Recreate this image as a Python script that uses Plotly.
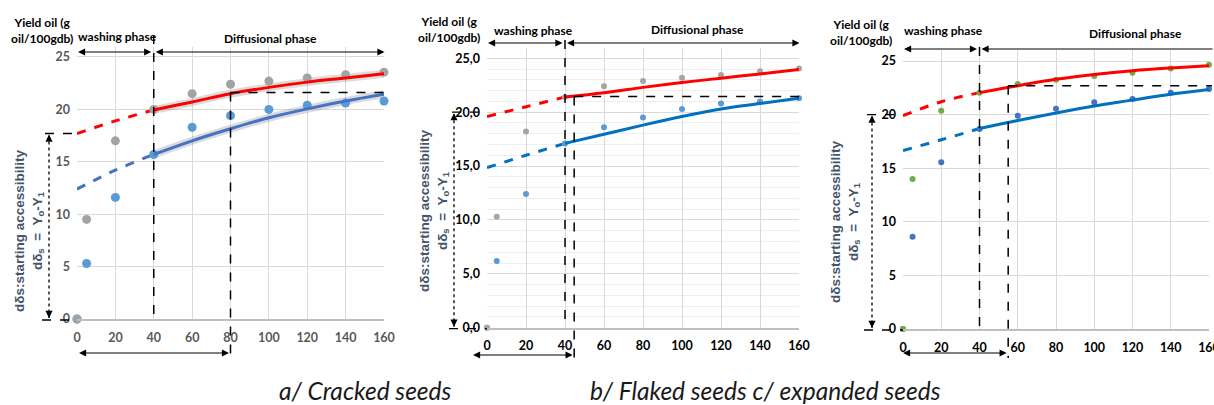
import plotly.graph_objects as go

W, H = 1214, 405

# ---------------- data ----------------
TIME = [0, 5, 20, 40, 60, 80, 100, 120, 140, 160]

A_TOP = [0, 9.5, 17.0, 20.0, 21.5, 22.4, 22.7, 23.0, 23.3, 23.55]
A_BOT = [0, 5.3, 11.6, 15.7, 18.3, 19.4, 20.0, 20.4, 20.6, 20.8]
B_TOP = [0, 10.3, 18.2, 21.4, 22.4, 22.9, 23.2, 23.45, 23.8, 24.05]
B_BOT = [0, 6.2, 12.4, 17.1, 18.6, 19.5, 20.3, 20.8, 21.0, 21.3]
C_TOP = [0, 14.0, 20.35, 22.05, 22.85, 23.25, 23.6, 23.9, 24.3, 24.65]
C_BOT = [0, 8.6, 15.55, 18.65, 19.9, 20.55, 21.15, 21.45, 22.05, 22.4]

FIT_X_DASH = [0, 20, 40]
FIT_X_SOLID = [40, 60, 80, 100, 120, 140, 160]

A_RED_DASH = [17.7, 18.9, 19.95]
A_RED_SOLID = [19.95, 20.7, 21.5, 22.1, 22.6, 23.0, 23.4]
A_BLUE_DASH = [12.4, 14.2, 15.7]
A_BLUE_SOLID = [15.7, 17.0, 18.15, 19.2, 20.05, 20.8, 21.45]

B_RED_DASH = [19.6, 20.5, 21.4]
B_RED_SOLID = [21.4, 21.8, 22.3, 22.75, 23.15, 23.55, 23.95]
B_BLUE_DASH = [14.85, 16.0, 17.1]
B_BLUE_SOLID = [17.1, 17.95, 18.8, 19.6, 20.3, 20.8, 21.3]

C_RED_DASH = [19.9, 21.2, 22.05]
C_RED_SOLID = [22.05, 22.7, 23.3, 23.75, 24.1, 24.35, 24.55]
C_BLUE_DASH = [16.65, 17.65, 18.7]
C_BLUE_SOLID = [18.7, 19.45, 20.15, 20.8, 21.35, 21.9, 22.35]

X_TICKS = [0, 20, 40, 60, 80, 100, 120, 140, 160]
Y_TICKS = [0, 5, 10, 15, 20, 25]
Y_TICKTEXT_B = ["0,0", "5,0", "10,0", "15,0", "20,0", "25,0"]

# guide values (phase boundary, equilibrium point, starting accessibility)
PHASE_END = {"a": 40, "b": 40, "c": 40}
EQ_X = {"a": 80, "b": 44.7, "c": 55}
EQ_Y = {"a": 21.6, "b": 21.45, "c": 22.7}
ACC_Y = {"a": 17.7, "b": 20.0, "c": 20.0}

CAPTION_A = "a/ Cracked seeds"
CAPTION_BC = "b/ Flaked seeds c/ expanded seeds"

# ---------------- geometry ----------------
XMAX, YMAX = 160, 26
GEOM = {
    "a": dict(x0=77, x1=384, y0=319, yt=46.5),
    "b": dict(x0=487, x1=799, y0=327.7, yt=47.5),
    "c": dict(x0=903, x1=1209, y0=329, yt=50.3),
}
AX = {"a": ("x", "y", "xaxis", "yaxis"), "b": ("x2", "y2", "xaxis2", "yaxis2"),
      "c": ("x3", "y3", "xaxis3", "yaxis3")}

LAB_FONT = "Lato, Open Sans, sans-serif"
ROT_FONT = "Liberation Sans, Arial, sans-serif"
LABEL_COL = "#44546a"


def dpx(g, v):
    G = GEOM[g]
    return G["x0"] + (G["x1"] - G["x0"]) * v / XMAX


def dpy(g, v):
    G = GEOM[g]
    return G["y0"] - (G["y0"] - G["yt"]) * v / YMAX


def line(x0, y0, x1, y1, dash="dash", width=1.5, color="black"):
    return dict(type="line", xref="paper", yref="paper",
                x0=x0 / W, y0=1 - y0 / H, x1=x1 / W, y1=1 - y1 / H,
                line=dict(color=color, width=width, dash=dash), layer="above")


def arrow(xh, yh, xt, yt, both=True):
    return dict(x=xh / W, y=1 - yh / H, xref="paper", yref="paper",
                ax=xt - xh, ay=yt - yh, axref="pixel", ayref="pixel",
                showarrow=True, text="", arrowhead=2, arrowsize=1.3,
                arrowwidth=1.1, arrowcolor="black",
                arrowside="end+start" if both else "end",
                standoff=0, startstandoff=0)


def text(x, y, t, size=12.5, color="black", bold=True, family=LAB_FONT,
         angle=0, italic=False):
    return dict(x=x / W, y=1 - y / H, xref="paper", yref="paper", text=t,
                showarrow=False, textangle=angle, xanchor="center",
                yanchor="middle",
                font=dict(size=size, color=color, family=family,
                          weight="bold" if bold else "normal",
                          style="italic" if italic else "normal"))


fig = go.Figure()

PANEL_DATA = {
    "a": dict(top=A_TOP, bot=A_BOT, rd=A_RED_DASH, rs=A_RED_SOLID,
              bd=A_BLUE_DASH, bs=A_BLUE_SOLID,
              top_col="#a3a3a3", bot_col="#5b9bd5", blue_line="#4472c4",
              msize=9, tickcol="#595959", shadow=True),
    "b": dict(top=B_TOP, bot=B_BOT, rd=B_RED_DASH, rs=B_RED_SOLID,
              bd=B_BLUE_DASH, bs=B_BLUE_SOLID,
              top_col="#a5a5a5", bot_col="#5b9bd5", blue_line="#0070c0",
              msize=6, tickcol="#000000", shadow=False),
    "c": dict(top=C_TOP, bot=C_BOT, rd=C_RED_DASH, rs=C_RED_SOLID,
              bd=C_BLUE_DASH, bs=C_BLUE_SOLID,
              top_col="#70ad47", bot_col="#4472c4", blue_line="#0070c0",
              msize=6, tickcol="#000000", shadow=False),
}

for g, P in PANEL_DATA.items():
    xa, ya, _, _ = AX[g]
    common = dict(xaxis=xa, yaxis=ya, showlegend=False, hoverinfo="skip")
    if P["shadow"]:
        for ys in (P["rs"], P["bs"]):
            fig.add_trace(go.Scatter(x=FIT_X_SOLID, y=ys, mode="lines",
                                     line=dict(color="rgba(90,90,90,0.22)",
                                               width=8, shape="spline"),
                                     **common))
    fig.add_trace(go.Scatter(x=FIT_X_DASH, y=P["rd"], mode="lines",
                             line=dict(color="#ff0000", width=3, dash="dash",
                                       shape="spline"), **common))
    fig.add_trace(go.Scatter(x=FIT_X_DASH, y=P["bd"], mode="lines",
                             line=dict(color=P["blue_line"], width=3,
                                       dash="dash", shape="spline"), **common))
    fig.add_trace(go.Scatter(x=TIME, y=P["bot"], mode="markers",
                             marker=dict(color=P["bot_col"], size=P["msize"]),
                             cliponaxis=False, **common))
    fig.add_trace(go.Scatter(x=TIME, y=P["top"], mode="markers",
                             marker=dict(color=P["top_col"], size=P["msize"]),
                             cliponaxis=False, **common))
    fig.add_trace(go.Scatter(x=FIT_X_SOLID, y=P["rs"], mode="lines",
                             line=dict(color="#ff0000", width=3,
                                       shape="spline"), **common))
    fig.add_trace(go.Scatter(x=FIT_X_SOLID, y=P["bs"], mode="lines",
                             line=dict(color=P["blue_line"], width=3,
                                       shape="spline"), **common))

layout_axes = {}
for g, P in PANEL_DATA.items():
    xa, ya, xkey, ykey = AX[g]
    G = GEOM[g]
    tf = dict(family=LAB_FONT, size=12.5, color=P["tickcol"], weight="bold")
    layout_axes[xkey] = dict(
        domain=[G["x0"] / W, G["x1"] / W], range=[0, XMAX], anchor=ya,
        tickvals=X_TICKS, showgrid=True, gridcolor="#d9d9d9", gridwidth=1,
        zeroline=False, showline=True, linecolor="#bfbfbf", linewidth=1.5,
        ticks="", tickfont=tf, ticklabelstandoff=6, fixedrange=True,
        automargin=False, ticklabeloverflow="allow")
    yk = dict(
        domain=[1 - G["y0"] / H, 1 - G["yt"] / H], range=[0, YMAX],
        anchor=xa, tickvals=Y_TICKS, showgrid=True, gridcolor="#d9d9d9",
        gridwidth=1, zeroline=False, showline=False, ticks="", tickfont=tf,
        ticklabelstandoff=6, fixedrange=True, automargin=False)
    if g == "b":
        yk["ticktext"] = Y_TICKTEXT_B
        yk["minor"] = dict(dtick=1, showgrid=True, gridcolor="#efefef",
                           gridwidth=1)
    layout_axes[ykey] = yk

shapes, anns = [], []

TOP_ARROW_Y = {"a": 52, "b": 43, "c": 49}
PHASE_TOP = {"a": 35, "b": 40, "c": 47}
BOTTOM_ARROW = {"a": (79, 353), "b": (473, 355), "c": (903, 353)}
BOTTOM_END = {"a": 355, "b": 358, "c": 358}
LEFT_GUIDE_X = {"a": (45, 42, 49), "b": (452, 449, 454), "c": (867, 864, 872)}
YIELD_POS = {"a": (42, 30), "b": (449, 29), "c": (861, 32)}
WASH_POS = {"a": (117, 37), "b": (533, 30), "c": (943, 31)}
DIFF_POS = {"a": (270, 38), "b": (697, 29), "c": (1135, 33)}
ROT_POS = {"a": (29, 231), "b": (434, 211), "c": (845, 222)}

for g in ("a", "b", "c"):
    x40 = dpx(g, PHASE_END[g])
    x0 = dpx(g, 0)
    x160 = dpx(g, XMAX)
    y0 = dpy(g, 0)
    shapes.append(line(x40, PHASE_TOP[g], x40, y0))
    ex, ey = dpx(g, EQ_X[g]), dpy(g, EQ_Y[g])
    shapes.append(line(ex, ey, ex, BOTTOM_END[g]))
    shapes.append(line(ex, ey, x160 + 3, ey))
    hx, hx0, vx = LEFT_GUIDE_X[g]
    ay_acc = dpy(g, ACC_Y[g])
    shapes.append(line(hx, ay_acc, x0, ay_acc, dash="dash", width=1.3))
    shapes.append(line(hx0, y0 + 1, x0, y0 + 1, dash="dash", width=1.3))
    shapes.append(line(vx, ay_acc + 2, vx, y0 - 1, dash="dot", width=1.3))
    anns.append(arrow(vx, ay_acc + 1, vx, ay_acc + 6, both=False))
    anns.append(arrow(vx, y0 - 1, vx, y0 - 6, both=False))
    ty = TOP_ARROW_Y[g]
    anns.append(arrow(x0 + 1, ty, x40 - 1, ty))
    if g == "c":
        anns.append(arrow(x40 + 2, ty, W + 30, ty, both=False))
    else:
        anns.append(arrow(x40 + 2, ty, x160 + 2, ty))
    bx, by = BOTTOM_ARROW[g]
    anns.append(arrow(bx, by, ex, by))
    xx, yy = YIELD_POS[g]
    anns.append(text(xx, yy, "Yield oil (g<br>oil/100gdb)", size=12))
    xx, yy = WASH_POS[g]
    anns.append(text(xx, yy, "washing phase", size=12))
    xx, yy = DIFF_POS[g]
    anns.append(text(xx, yy, "Diffusional phase", size=12))
    xx, yy = ROT_POS[g]
    anns.append(text(xx, yy,
                     "dδs:starting accessibility<br>"
                     "dδ<sub>s</sub>\u00a0\u00a0=\u00a0\u00a0Y<sub>o</sub>-Y<sub>1</sub>",
                     size=13.5, color=LABEL_COL, family=ROT_FONT, angle=-90))

anns.append(text(365, 390, CAPTION_A, size=24.5, bold=False, italic=True,
                 color="#1a1a1a"))
anns.append(text(765, 390, CAPTION_BC, size=24.5, bold=False, italic=True,
                 color="#1a1a1a"))

fig.update_layout(
    width=W, height=H, margin=dict(l=0, r=0, t=0, b=0, autoexpand=False),
    paper_bgcolor="white", plot_bgcolor="white",
    shapes=shapes, annotations=anns, showlegend=False,
    **layout_axes)

fig.write_html("out.html", config={"displayModeBar": False},
               post_script="document.body.style.margin='0';"
                           "document.body.style.overflow='hidden';")
